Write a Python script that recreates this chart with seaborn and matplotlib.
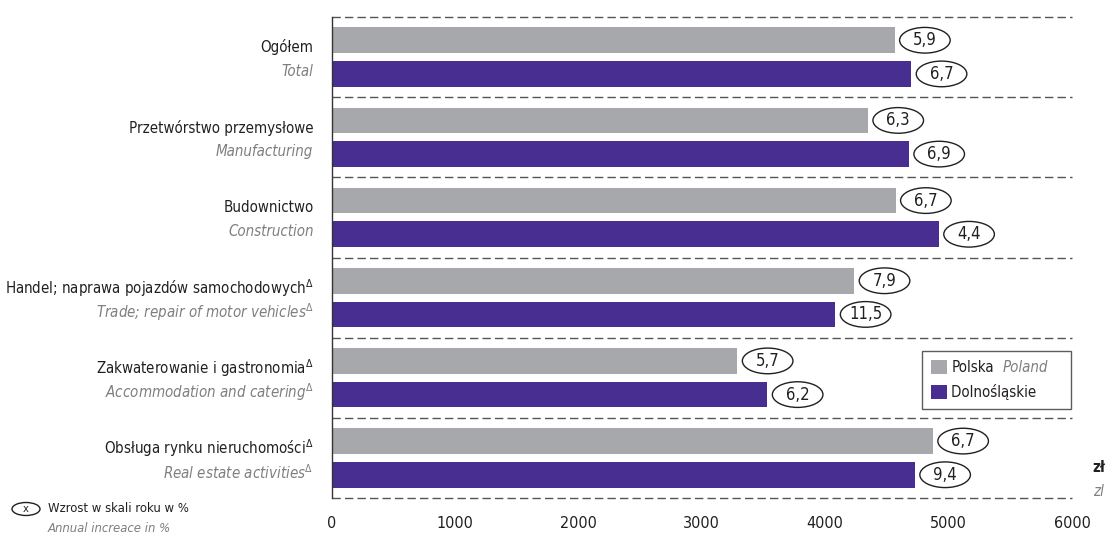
import numpy as np
import pandas as pd
import matplotlib
matplotlib.use("Agg")
import matplotlib.pyplot as plt
from matplotlib import font_manager
from matplotlib.patches import Ellipse, Patch
import seaborn as sns

# ---- data ----
categories_pl = ["Ogółem", "Przetwórstwo przemysłowe", "Budownictwo",
                 "Handel; naprawa pojazdów samochodowych",
                 "Zakwaterowanie i gastronomia", "Obsługa rynku nieruchomości"]
categories_en = ["Total", "Manufacturing", "Construction",
                 "Trade; repair of motor vehicles",
                 "Accommodation and catering", "Real estate activities"]
delta_mark = [False, False, False, True, True, True]
series = ["Polska", "Dolnośląskie"]
polska = [4563, 4347, 4571, 4236, 3289, 4873]
dolnoslaskie = [4698, 4679, 4921, 4083, 3532, 4727]
growth_polska = [5.9, 6.3, 6.7, 7.9, 5.7, 6.7]
growth_dolnoslaskie = [6.7, 6.9, 4.4, 11.5, 6.2, 9.4]
xticks = [0, 1000, 2000, 3000, 4000, 5000, 6000]

GRAY = "#A7A8AB"
PURPLE = "#482E91"
TXT = "#231F20"
TXT_EN = "#7F7F7F"

sns.set_theme(style="white")

# pick a condensed/narrow font if one is installed
cond = None
for f in font_manager.fontManager.ttflist:
    n = (f.name + " " + f.fname).lower()
    if ("condensed" in n or "narrow" in n) and f.style == "normal":
        cond = f
        break
STRETCH = "normal"
if cond is not None:
    FAM = cond.name
    STRETCH = cond.stretch
    SC = 1.0
else:
    FAM = "Liberation Sans"
    SC = 0.92
plt.rcParams["font.family"] = [FAM, "DejaVu Sans"]
plt.rcParams["font.stretch"] = STRETCH
plt.rcParams["mathtext.fontset"] = "dejavusans"
FS_LAB = 10.8 * SC
FS_TICK = 11.5 * SC
FS_ELL = 12 * SC
FS_LEG = 10.8 * SC
FS_NOTE = 9.4 * SC

df = pd.DataFrame({
    "cat": categories_pl * 2,
    "series": [series[0]] * 6 + [series[1]] * 6,
    "value": polska + dolnoslaskie,
})

W, H = 1109, 535
fig = plt.figure(figsize=(W / 100, H / 100), dpi=100)
ax = fig.add_axes([331.5 / W, 1 - 498 / H, 740.5 / W, 481 / H])

sns.barplot(data=df, y="cat", x="value", hue="series", orient="h",
            palette=[GRAY, PURPLE], width=0.84, gap=0.24, linewidth=0,
            saturation=1, legend=False, ax=ax, errorbar=None)

ax.set_xlim(0, 6000)
ax.set_ylim(5.5, -0.5)
ax.set_xticks(xticks)
ax.set_xticklabels([str(t) for t in xticks], fontsize=FS_TICK, color=TXT)
ax.tick_params(axis="x", length=0, pad=13)
ax.set_yticks([])
ax.set_xlabel("")
ax.set_ylabel("")
for s in ["top", "right", "bottom"]:
    ax.spines[s].set_visible(False)
ax.spines["left"].set_color("#333333")
ax.spines["left"].set_linewidth(1.0)

for yy in np.arange(-0.5, 6.0, 1.0):
    ax.axhline(yy, color="#555555", lw=1.0, ls=(0, (6, 3)), zorder=0, clip_on=False)

# ellipse labels
growths = [growth_polska, growth_dolnoslaskie]
ell_w = 410
ell_h = 0.32
for cont, gr in zip(ax.containers, growths):
    for bar, g in zip(cont, gr):
        w = bar.get_width()
        yc = bar.get_y() + bar.get_height() / 2
        cx = w + 40 + ell_w / 2
        ax.add_patch(Ellipse((cx, yc), ell_w, ell_h, facecolor="white",
                             edgecolor=TXT, lw=1.0, clip_on=False, zorder=3))
        ax.text(cx, yc, f"{g:.1f}".replace(".", ","), ha="center", va="center",
                fontsize=FS_ELL, color=TXT, zorder=4)

# category labels
ytrans = matplotlib.transforms.blended_transform_factory(ax.transAxes, ax.transData)
for i, (pl, en, d) in enumerate(zip(categories_pl, categories_en, delta_mark)):
    sup = r"$^{\Delta}$" if d else ""
    ax.annotate(pl + sup, xy=(0, i - 0.12), xycoords=ytrans, xytext=(-13, 0),
                textcoords="offset points", ha="right", va="center",
                fontsize=FS_LAB, color=TXT)
    ax.annotate(en + sup, xy=(0, i + 0.18), xycoords=ytrans, xytext=(-13, 0),
                textcoords="offset points", ha="right", va="center",
                fontsize=FS_LAB, color=TXT_EN, style="italic")

# legend
handles = [Patch(facecolor=GRAY, edgecolor="none"), Patch(facecolor=PURPLE, edgecolor="none")]
leg = fig.legend(handles, ["Polska", "Dolnośląskie" + "\u00a0" * 6],
                 loc="upper left", bbox_to_anchor=(922 / W, 1 - 351 / H),
                 bbox_transform=fig.transFigure, frameon=True, fancybox=False,
                 fontsize=FS_LEG, handlelength=1.05, handleheight=1.05,
                 handletextpad=0.3, borderpad=0.6, labelspacing=0.6,
                 borderaxespad=0)
leg.get_frame().set_edgecolor("#333333")
leg.get_frame().set_linewidth(1.0)
for t in leg.get_texts():
    t.set_color(TXT)

# unit
fig.text(1092 / W, 1 - 467 / H, "zł", fontsize=FS_LAB, color=TXT, weight="bold",
         ha="left", va="center")
fig.text(1093 / W, 1 - 491 / H, "zl", fontsize=FS_LAB, color=TXT_EN, style="italic",
         ha="left", va="center")

# note at bottom-left
note_ax = fig.add_axes([0, 0, 1, 1], facecolor="none")
note_ax.set_xlim(0, W)
note_ax.set_ylim(H, 0)
note_ax.axis("off")
note_ax.add_patch(Ellipse((26, 509), 28, 13, facecolor="white", edgecolor=TXT, lw=1.0))
note_ax.text(26, 509, "x", fontsize=8, ha="center", va="center", color=TXT)
note_ax.text(48, 509, "Wzrost w skali roku w %", fontsize=FS_NOTE, ha="left", va="center", color=TXT)
note_ax.text(48, 529, "Annual increace in %", fontsize=FS_NOTE, ha="left", va="center",
             color=TXT_EN, style="italic")

# "Poland" next to "Polska" in the legend
fig.canvas.draw()
bb = leg.get_texts()[0].get_window_extent()
fig.text((bb.x1 + 9) / W, (bb.y0 + bb.y1) / 2 / H, "Poland", fontsize=FS_LEG,
         color=TXT_EN, style="italic", ha="left", va="center", zorder=10)

fig.savefig("out.png", dpi=100)
